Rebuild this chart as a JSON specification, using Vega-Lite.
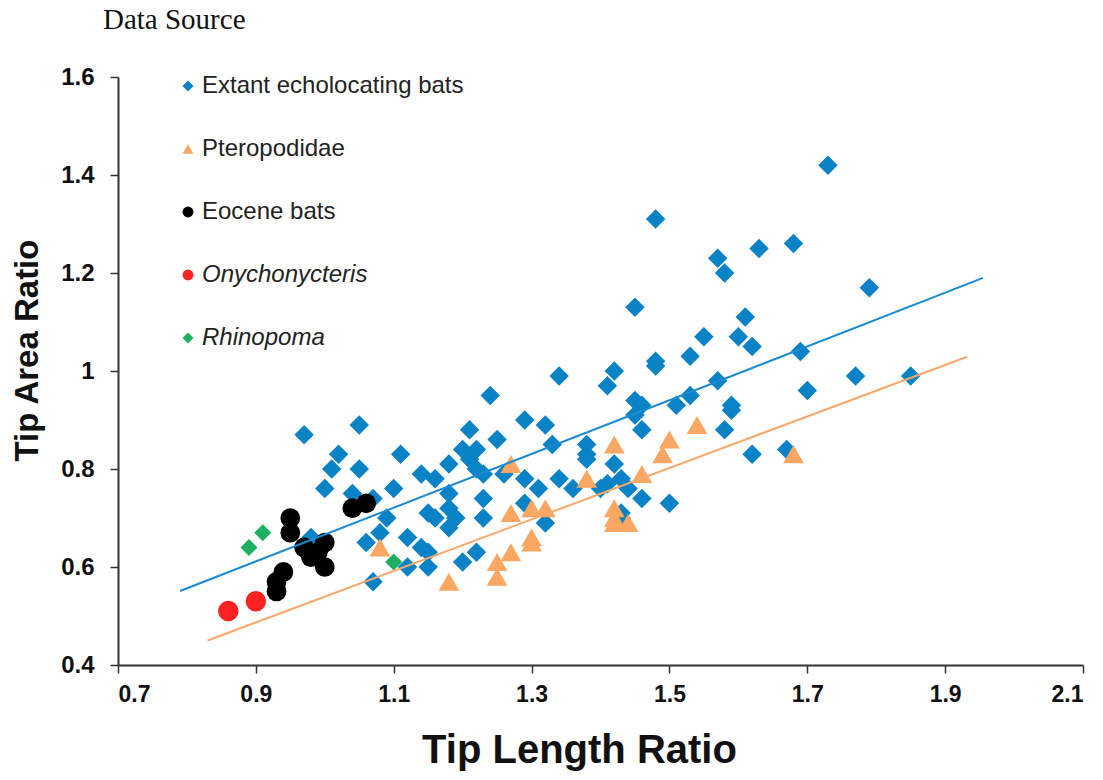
{
  "$schema": "https://vega.github.io/schema/vega-lite/v6.json",
  "width": 965,
  "height": 588,
  "autosize": {"type": "none"},
  "padding": {"left": 118, "top": 77, "right": 20, "bottom": 115},
  "background": "white",
  "title": {"text": "Data Source", "anchor": "start", "frame": "group", "font": "Liberation Serif", "fontSize": 29, "fontWeight": "normal", "color": "#111", "offset": 30, "dx": -15},
  "config": {
    "view": {"stroke": null},
    "axis": {"grid": false, "domainColor": "#333", "domainWidth": 2, "tickColor": "#333", "tickWidth": 1.5, "tickSize": 8, "labelFont": "Liberation Sans", "labelFontWeight": "bold", "labelColor": "#111", "titleFont": "Liberation Sans", "titleFontWeight": "bold", "titleColor": "#111"},
    "legend": {"orient": "none", "legendX": 58, "legendY": -3, "labelFont": "Liberation Sans", "labelFontSize": 24, "labelColor": "#222", "labelLimit": 0, "rowPadding": 39, "symbolSize": 120, "labelOffset": 2, "symbolStrokeWidth": 0}
  },
  "datasets": {
    "pts": [
      {"tipLength": 1.73, "tipArea": 1.42, "group": "Extant echolocating bats"},
      {"tipLength": 1.48, "tipArea": 1.31, "group": "Extant echolocating bats"},
      {"tipLength": 1.63, "tipArea": 1.25, "group": "Extant echolocating bats"},
      {"tipLength": 1.68, "tipArea": 1.26, "group": "Extant echolocating bats"},
      {"tipLength": 1.57, "tipArea": 1.23, "group": "Extant echolocating bats"},
      {"tipLength": 1.58, "tipArea": 1.20, "group": "Extant echolocating bats"},
      {"tipLength": 1.79, "tipArea": 1.17, "group": "Extant echolocating bats"},
      {"tipLength": 1.45, "tipArea": 1.13, "group": "Extant echolocating bats"},
      {"tipLength": 1.61, "tipArea": 1.11, "group": "Extant echolocating bats"},
      {"tipLength": 1.55, "tipArea": 1.07, "group": "Extant echolocating bats"},
      {"tipLength": 1.60, "tipArea": 1.07, "group": "Extant echolocating bats"},
      {"tipLength": 1.62, "tipArea": 1.05, "group": "Extant echolocating bats"},
      {"tipLength": 1.69, "tipArea": 1.04, "group": "Extant echolocating bats"},
      {"tipLength": 1.53, "tipArea": 1.03, "group": "Extant echolocating bats"},
      {"tipLength": 1.48, "tipArea": 1.02, "group": "Extant echolocating bats"},
      {"tipLength": 1.48, "tipArea": 1.01, "group": "Extant echolocating bats"},
      {"tipLength": 1.42, "tipArea": 1.00, "group": "Extant echolocating bats"},
      {"tipLength": 1.34, "tipArea": 0.99, "group": "Extant echolocating bats"},
      {"tipLength": 1.41, "tipArea": 0.97, "group": "Extant echolocating bats"},
      {"tipLength": 1.57, "tipArea": 0.98, "group": "Extant echolocating bats"},
      {"tipLength": 1.77, "tipArea": 0.99, "group": "Extant echolocating bats"},
      {"tipLength": 1.85, "tipArea": 0.99, "group": "Extant echolocating bats"},
      {"tipLength": 1.70, "tipArea": 0.96, "group": "Extant echolocating bats"},
      {"tipLength": 1.53, "tipArea": 0.95, "group": "Extant echolocating bats"},
      {"tipLength": 1.45, "tipArea": 0.94, "group": "Extant echolocating bats"},
      {"tipLength": 1.46, "tipArea": 0.93, "group": "Extant echolocating bats"},
      {"tipLength": 1.51, "tipArea": 0.93, "group": "Extant echolocating bats"},
      {"tipLength": 1.59, "tipArea": 0.93, "group": "Extant echolocating bats"},
      {"tipLength": 1.59, "tipArea": 0.92, "group": "Extant echolocating bats"},
      {"tipLength": 1.45, "tipArea": 0.91, "group": "Extant echolocating bats"},
      {"tipLength": 1.46, "tipArea": 0.88, "group": "Extant echolocating bats"},
      {"tipLength": 1.58, "tipArea": 0.88, "group": "Extant echolocating bats"},
      {"tipLength": 1.62, "tipArea": 0.83, "group": "Extant echolocating bats"},
      {"tipLength": 1.67, "tipArea": 0.84, "group": "Extant echolocating bats"},
      {"tipLength": 1.24, "tipArea": 0.95, "group": "Extant echolocating bats"},
      {"tipLength": 1.29, "tipArea": 0.90, "group": "Extant echolocating bats"},
      {"tipLength": 1.32, "tipArea": 0.89, "group": "Extant echolocating bats"},
      {"tipLength": 1.21, "tipArea": 0.88, "group": "Extant echolocating bats"},
      {"tipLength": 1.25, "tipArea": 0.86, "group": "Extant echolocating bats"},
      {"tipLength": 1.33, "tipArea": 0.85, "group": "Extant echolocating bats"},
      {"tipLength": 1.38, "tipArea": 0.85, "group": "Extant echolocating bats"},
      {"tipLength": 1.38, "tipArea": 0.83, "group": "Extant echolocating bats"},
      {"tipLength": 1.38, "tipArea": 0.82, "group": "Extant echolocating bats"},
      {"tipLength": 1.42, "tipArea": 0.81, "group": "Extant echolocating bats"},
      {"tipLength": 1.43, "tipArea": 0.78, "group": "Extant echolocating bats"},
      {"tipLength": 1.44, "tipArea": 0.76, "group": "Extant echolocating bats"},
      {"tipLength": 1.41, "tipArea": 0.77, "group": "Extant echolocating bats"},
      {"tipLength": 1.40, "tipArea": 0.76, "group": "Extant echolocating bats"},
      {"tipLength": 1.46, "tipArea": 0.74, "group": "Extant echolocating bats"},
      {"tipLength": 1.50, "tipArea": 0.73, "group": "Extant echolocating bats"},
      {"tipLength": 1.43, "tipArea": 0.71, "group": "Extant echolocating bats"},
      {"tipLength": 1.43, "tipArea": 0.70, "group": "Extant echolocating bats"},
      {"tipLength": 1.34, "tipArea": 0.78, "group": "Extant echolocating bats"},
      {"tipLength": 1.36, "tipArea": 0.76, "group": "Extant echolocating bats"},
      {"tipLength": 1.29, "tipArea": 0.78, "group": "Extant echolocating bats"},
      {"tipLength": 1.31, "tipArea": 0.76, "group": "Extant echolocating bats"},
      {"tipLength": 1.29, "tipArea": 0.73, "group": "Extant echolocating bats"},
      {"tipLength": 1.32, "tipArea": 0.69, "group": "Extant echolocating bats"},
      {"tipLength": 1.26, "tipArea": 0.79, "group": "Extant echolocating bats"},
      {"tipLength": 1.23, "tipArea": 0.79, "group": "Extant echolocating bats"},
      {"tipLength": 1.22, "tipArea": 0.80, "group": "Extant echolocating bats"},
      {"tipLength": 1.21, "tipArea": 0.82, "group": "Extant echolocating bats"},
      {"tipLength": 1.20, "tipArea": 0.84, "group": "Extant echolocating bats"},
      {"tipLength": 1.22, "tipArea": 0.84, "group": "Extant echolocating bats"},
      {"tipLength": 1.18, "tipArea": 0.81, "group": "Extant echolocating bats"},
      {"tipLength": 1.14, "tipArea": 0.79, "group": "Extant echolocating bats"},
      {"tipLength": 1.16, "tipArea": 0.78, "group": "Extant echolocating bats"},
      {"tipLength": 1.11, "tipArea": 0.83, "group": "Extant echolocating bats"},
      {"tipLength": 1.10, "tipArea": 0.76, "group": "Extant echolocating bats"},
      {"tipLength": 1.18, "tipArea": 0.75, "group": "Extant echolocating bats"},
      {"tipLength": 1.23, "tipArea": 0.74, "group": "Extant echolocating bats"},
      {"tipLength": 1.18, "tipArea": 0.72, "group": "Extant echolocating bats"},
      {"tipLength": 1.15, "tipArea": 0.71, "group": "Extant echolocating bats"},
      {"tipLength": 1.16, "tipArea": 0.70, "group": "Extant echolocating bats"},
      {"tipLength": 1.19, "tipArea": 0.70, "group": "Extant echolocating bats"},
      {"tipLength": 1.18, "tipArea": 0.68, "group": "Extant echolocating bats"},
      {"tipLength": 1.23, "tipArea": 0.70, "group": "Extant echolocating bats"},
      {"tipLength": 1.12, "tipArea": 0.66, "group": "Extant echolocating bats"},
      {"tipLength": 1.14, "tipArea": 0.64, "group": "Extant echolocating bats"},
      {"tipLength": 1.15, "tipArea": 0.63, "group": "Extant echolocating bats"},
      {"tipLength": 1.15, "tipArea": 0.60, "group": "Extant echolocating bats"},
      {"tipLength": 1.12, "tipArea": 0.60, "group": "Extant echolocating bats"},
      {"tipLength": 1.20, "tipArea": 0.61, "group": "Extant echolocating bats"},
      {"tipLength": 1.22, "tipArea": 0.63, "group": "Extant echolocating bats"},
      {"tipLength": 1.09, "tipArea": 0.70, "group": "Extant echolocating bats"},
      {"tipLength": 1.06, "tipArea": 0.65, "group": "Extant echolocating bats"},
      {"tipLength": 1.08, "tipArea": 0.67, "group": "Extant echolocating bats"},
      {"tipLength": 1.07, "tipArea": 0.57, "group": "Extant echolocating bats"},
      {"tipLength": 0.97, "tipArea": 0.87, "group": "Extant echolocating bats"},
      {"tipLength": 1.05, "tipArea": 0.89, "group": "Extant echolocating bats"},
      {"tipLength": 1.02, "tipArea": 0.83, "group": "Extant echolocating bats"},
      {"tipLength": 1.01, "tipArea": 0.80, "group": "Extant echolocating bats"},
      {"tipLength": 1.05, "tipArea": 0.80, "group": "Extant echolocating bats"},
      {"tipLength": 1.00, "tipArea": 0.76, "group": "Extant echolocating bats"},
      {"tipLength": 1.04, "tipArea": 0.75, "group": "Extant echolocating bats"},
      {"tipLength": 1.07, "tipArea": 0.74, "group": "Extant echolocating bats"},
      {"tipLength": 0.98, "tipArea": 0.66, "group": "Extant echolocating bats"},
      {"tipLength": 1.08, "tipArea": 0.64, "group": "Pteropodidae"},
      {"tipLength": 1.18, "tipArea": 0.57, "group": "Pteropodidae"},
      {"tipLength": 1.25, "tipArea": 0.61, "group": "Pteropodidae"},
      {"tipLength": 1.25, "tipArea": 0.58, "group": "Pteropodidae"},
      {"tipLength": 1.27, "tipArea": 0.63, "group": "Pteropodidae"},
      {"tipLength": 1.27, "tipArea": 0.71, "group": "Pteropodidae"},
      {"tipLength": 1.27, "tipArea": 0.81, "group": "Pteropodidae"},
      {"tipLength": 1.30, "tipArea": 0.72, "group": "Pteropodidae"},
      {"tipLength": 1.30, "tipArea": 0.66, "group": "Pteropodidae"},
      {"tipLength": 1.30, "tipArea": 0.65, "group": "Pteropodidae"},
      {"tipLength": 1.32, "tipArea": 0.72, "group": "Pteropodidae"},
      {"tipLength": 1.38, "tipArea": 0.78, "group": "Pteropodidae"},
      {"tipLength": 1.42, "tipArea": 0.85, "group": "Pteropodidae"},
      {"tipLength": 1.42, "tipArea": 0.72, "group": "Pteropodidae"},
      {"tipLength": 1.42, "tipArea": 0.70, "group": "Pteropodidae"},
      {"tipLength": 1.42, "tipArea": 0.69, "group": "Pteropodidae"},
      {"tipLength": 1.44, "tipArea": 0.69, "group": "Pteropodidae"},
      {"tipLength": 1.46, "tipArea": 0.79, "group": "Pteropodidae"},
      {"tipLength": 1.49, "tipArea": 0.83, "group": "Pteropodidae"},
      {"tipLength": 1.50, "tipArea": 0.86, "group": "Pteropodidae"},
      {"tipLength": 1.54, "tipArea": 0.89, "group": "Pteropodidae"},
      {"tipLength": 1.68, "tipArea": 0.83, "group": "Pteropodidae"},
      {"tipLength": 0.95, "tipArea": 0.70, "group": "Eocene bats"},
      {"tipLength": 0.95, "tipArea": 0.67, "group": "Eocene bats"},
      {"tipLength": 0.97, "tipArea": 0.64, "group": "Eocene bats"},
      {"tipLength": 0.98, "tipArea": 0.62, "group": "Eocene bats"},
      {"tipLength": 0.99, "tipArea": 0.63, "group": "Eocene bats"},
      {"tipLength": 1.00, "tipArea": 0.65, "group": "Eocene bats"},
      {"tipLength": 1.00, "tipArea": 0.60, "group": "Eocene bats"},
      {"tipLength": 0.94, "tipArea": 0.59, "group": "Eocene bats"},
      {"tipLength": 0.93, "tipArea": 0.57, "group": "Eocene bats"},
      {"tipLength": 0.93, "tipArea": 0.55, "group": "Eocene bats"},
      {"tipLength": 1.04, "tipArea": 0.72, "group": "Eocene bats"},
      {"tipLength": 1.06, "tipArea": 0.73, "group": "Eocene bats"},
      {"tipLength": 0.86, "tipArea": 0.51, "group": "Onychonycteris"},
      {"tipLength": 0.90, "tipArea": 0.53, "group": "Onychonycteris"},
      {"tipLength": 0.89, "tipArea": 0.64, "group": "Rhinopoma"},
      {"tipLength": 0.91, "tipArea": 0.67, "group": "Rhinopoma"},
      {"tipLength": 1.10, "tipArea": 0.61, "group": "Rhinopoma"}
    ],
    "fits": [
      {"tipLength": 0.79, "tipArea": 0.551, "series": "extant"},
      {"tipLength": 1.955, "tipArea": 1.19, "series": "extant"},
      {"tipLength": 0.83, "tipArea": 0.45, "series": "ptero"},
      {"tipLength": 1.932, "tipArea": 1.029, "series": "ptero"}
    ]
  },
  "encoding": {
    "x": {"field": "tipLength", "type": "quantitative", "scale": {"domain": [0.7, 2.1], "nice": false, "zero": false},
      "axis": {"values": [0.7, 0.9, 1.1, 1.3, 1.5, 1.7, 1.9, 2.1], "format": ".1f", "title": "Tip Length Ratio", "labelFontSize": 23, "labelPadding": 10, "titleFontSize": 40, "titlePadding": 24, "titleX": 461}},
    "y": {"field": "tipArea", "type": "quantitative", "scale": {"domain": [0.4, 1.6], "nice": false, "zero": false},
      "axis": {"values": [0.4, 0.6, 0.8, 1.0, 1.2, 1.4, 1.6], "format": "~g", "title": "Tip Area Ratio", "labelFontSize": 24, "labelPadding": 16, "titleFontSize": 33, "titlePadding": 16, "titleY": 273}}
  },
  "layer": [
    {
      "data": {"name": "pts"},
      "transform": [{"filter": "datum.group === 'Extant echolocating bats'"}],
      "mark": {"type": "point", "filled": true, "opacity": 1, "size": 380},
      "encoding": {
        "color": {"field": "group", "type": "nominal",
          "scale": {"domain": ["Extant echolocating bats", "Pteropodidae", "Eocene bats", "Onychonycteris", "Rhinopoma"], "range": ["#0A82C6", "#F9A762", "#000000", "#FF2222", "#1DB060"]},
          "legend": {"title": null, "labelFontStyle": {"expr": "indexof(['Onychonycteris','Rhinopoma'], datum.value) >= 0 ? 'italic' : 'normal'"}}},
        "shape": {"field": "group", "type": "nominal",
          "scale": {"domain": ["Extant echolocating bats", "Pteropodidae", "Eocene bats", "Onychonycteris", "Rhinopoma"], "range": ["diamond", "triangle-up", "circle", "circle", "diamond"]},
          "legend": {"title": null, "labelFontStyle": {"expr": "indexof(['Onychonycteris','Rhinopoma'], datum.value) >= 0 ? 'italic' : 'normal'"}}}
      }
    },
    {
      "data": {"name": "pts"},
      "transform": [{"filter": "datum.group === 'Pteropodidae'"}],
      "mark": {"type": "point", "filled": true, "opacity": 1, "size": 430},
      "encoding": {"color": {"field": "group", "type": "nominal"}, "shape": {"field": "group", "type": "nominal"}}
    },
    {
      "data": {"name": "pts"},
      "transform": [{"filter": "datum.group === 'Eocene bats'"}],
      "mark": {"type": "point", "filled": true, "opacity": 1, "size": 390},
      "encoding": {"color": {"field": "group", "type": "nominal"}, "shape": {"field": "group", "type": "nominal"}}
    },
    {
      "data": {"name": "pts"},
      "transform": [{"filter": "datum.group === 'Onychonycteris'"}],
      "mark": {"type": "point", "filled": true, "opacity": 1, "size": 420},
      "encoding": {"color": {"field": "group", "type": "nominal"}, "shape": {"field": "group", "type": "nominal"}}
    },
    {
      "data": {"name": "pts"},
      "transform": [{"filter": "datum.group === 'Rhinopoma'"}],
      "mark": {"type": "point", "filled": true, "opacity": 1, "size": 290},
      "encoding": {"color": {"field": "group", "type": "nominal"}, "shape": {"field": "group", "type": "nominal"}}
    },
    {
      "data": {"name": "fits"},
      "transform": [{"filter": "datum.series === 'extant'"}],
      "mark": {"type": "line", "color": "#1B8AD0", "strokeWidth": 2},
      "encoding": {}
    },
    {
      "data": {"name": "fits"},
      "transform": [{"filter": "datum.series === 'ptero'"}],
      "mark": {"type": "line", "color": "#F8A86A", "strokeWidth": 2},
      "encoding": {}
    }
  ]
}
